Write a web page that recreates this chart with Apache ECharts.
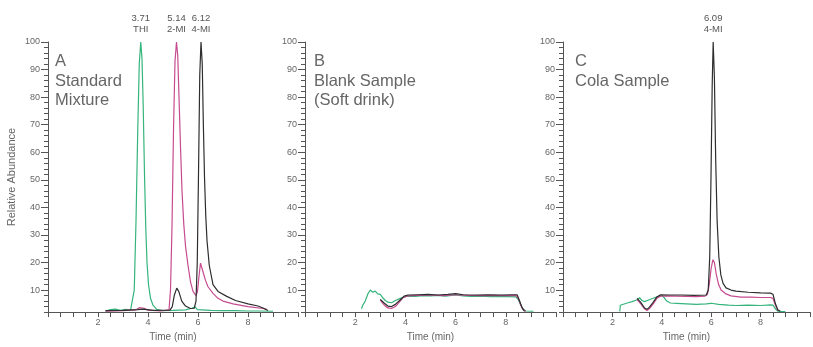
<!DOCTYPE html>
<html><head><meta charset="utf-8">
<script src="https://cdn.jsdelivr.net/npm/echarts@6/dist/echarts.min.js"></script>
<style>html,body{margin:0;padding:0;background:#fff}#c{width:813px;height:347px}</style>
</head><body><div id="c"></div>
<script>
// ---- data (time in min, relative abundance %) ----
const aGreen = [[2.3,2.4],[2.5,2.9],[2.7,3.1],[2.9,2.6],[3.1,3.0],[3.3,2.6],[3.38,2.8],[3.45,10],[3.52,35],[3.59,68],[3.65,92],[3.71,100],[3.76,94],[3.81,76],[3.86,52],[3.91,33],[3.96,20],[4.02,12],[4.1,7],[4.2,4.5],[4.35,3.0],[4.6,2.5],[5.0,2.6],[5.5,2.8],[5.75,3.4],[5.88,3.9],[5.98,2.9],[6.5,2.6],[7.0,2.5],[7.5,2.5],[8.0,2.4],[8.5,2.4],[9.0,2.3]];
const aMagenta = [[2.3,2.3],[3.0,2.5],[3.5,2.8],[3.65,3.6],[3.85,3.4],[4.0,2.7],[4.5,2.4],[4.84,2.8],[4.9,10],[4.96,33],[5.02,68],[5.08,93],[5.14,100],[5.19,95],[5.24,80],[5.3,62],[5.36,46],[5.43,34],[5.5,26],[5.6,19],[5.7,13],[5.8,9.5],[5.92,8],[5.98,9.5],[6.04,15],[6.1,19.8],[6.15,19.5],[6.22,16],[6.3,13.5],[6.4,11.2],[6.6,8.8],[6.8,7],[7.0,6],[7.4,5],[8.0,4],[8.6,3.3],[8.75,3.0]];
const aBlack = [[2.3,2.5],[3.0,2.6],[3.6,2.9],[3.8,3.1],[4.2,2.6],[4.88,2.7],[4.97,4],[5.05,8],[5.15,10.7],[5.23,9.5],[5.35,6],[5.5,4.2],[5.7,3.3],[5.85,3.4],[5.92,6],[5.97,20],[6.02,52],[6.07,88],[6.12,100],[6.17,92],[6.21,72],[6.26,51],[6.31,37],[6.36,28],[6.45,19],[6.6,12],[6.8,9.5],[7.15,7.7],[7.5,6.2],[8.0,5],[8.4,4.2],[8.6,3.5],[8.8,2.6]];

const bGreen = [[2.25,3.2],[2.3,4.5],[2.4,6],[2.5,8.5],[2.6,10],[2.7,9.2],[2.8,9.6],[2.9,8.6],[3.0,8.4],[3.1,7.2],[3.2,6.2],[3.3,5.6],[3.45,5.4],[3.6,6.2],[3.75,6.8],[3.9,7.4],[4.1,7.8],[4.4,7.7],[4.7,8.0],[5.0,7.9],[5.3,8.1],[5.6,7.8],[6.0,8.2],[6.3,7.9],[6.6,7.7],[7.0,7.8],[7.4,7.6],[7.8,7.7],[8.1,7.6],[8.4,7.5],[8.5,6.5],[8.6,4.5],[8.7,3],[8.8,2.4],[9.1,2.3]];
const bMagenta = [[3.0,6.4],[3.1,5.2],[3.2,4.2],[3.3,3.5],[3.45,3.3],[3.6,4.0],[3.75,5.5],[3.9,7.2],[4.1,7.9],[4.5,8.1],[5.0,8.2],[5.5,8.0],[6.0,8.3],[6.5,8.1],[7.0,8.0],[7.5,8.1],[8.0,8.0],[8.4,8.1],[8.5,7],[8.6,4.5],[8.7,2.8],[8.8,2.3]];
const bBlack = [[3.0,6.6],[3.15,5.3],[3.3,4.2],[3.45,4.0],[3.6,4.8],[3.8,6.5],[3.95,7.8],[4.1,8.2],[4.5,8.3],[4.9,8.4],[5.3,8.2],[5.7,8.4],[6.0,8.7],[6.3,8.3],[6.8,8.2],[7.3,8.3],[7.8,8.2],[8.2,8.3],[8.45,8.3],[8.55,6],[8.65,3.5],[8.75,2.3]];

const cGreen = [[2.3,2.2],[2.32,4.5],[2.4,5],[2.6,5.3],[2.8,5.8],[3.0,6.5],[3.1,7.2],[3.2,6.2],[3.3,5.8],[3.5,6.5],[3.7,7.2],[3.9,7.8],[4.0,8.0],[4.1,7.2],[4.2,6],[4.35,5.3],[4.6,5.2],[5.0,5.0],[5.4,4.8],[5.8,5.0],[6.0,5.2],[6.3,4.8],[6.7,4.5],[7.0,4.4],[7.5,4.5],[8.0,4.4],[8.4,4.6],[8.5,4.5],[8.6,3.2],[8.7,2.3],[9.0,2.2]];
const cMagenta = [[3.0,6.5],[3.15,5],[3.3,3.2],[3.4,2.6],[3.5,3.3],[3.65,5],[3.8,7],[3.95,7.8],[4.2,7.9],[4.6,7.8],[5.0,7.7],[5.4,7.6],[5.75,7.8],[5.85,8.5],[5.92,12],[6.0,18],[6.07,21],[6.13,20],[6.2,16],[6.3,12],[6.4,10],[6.6,8.6],[6.8,7.9],[7.2,7.4],[7.6,7.4],[8.0,7.3],[8.4,7.3],[8.5,7.0],[8.6,4.5],[8.7,2.5]];
const cBlack = [[3.0,7],[3.15,5.5],[3.3,3.5],[3.4,3],[3.5,3.8],[3.65,5.5],[3.8,7.5],[3.95,8.3],[4.3,8.2],[4.8,8.2],[5.3,8.1],[5.8,8.2],[5.88,10],[5.94,22],[5.99,50],[6.04,84],[6.08,100],[6.13,87],[6.18,58],[6.24,35],[6.31,22],[6.39,15.5],[6.48,12.4],[6.6,10.8],[6.8,10],[7.0,9.6],[7.5,9.2],[8.0,9.0],[8.4,8.9],[8.5,8.5],[8.6,5],[8.7,2.8],[8.8,2.3]];

const xTickLabels = [2,4,6,8];
const yTickLabels = [10,20,30,40,50,60,70,80,90,100];
const panelTitles = ['A\nStandard\nMixture','B\nBlank Sample\n(Soft drink)','C\nCola Sample'];
const peakA = [{t:3.71,v:100,text:'3.71\nTHI',s:'g'},{t:5.14,v:100,text:'5.14\n2-MI',s:'m'},{t:6.12,v:100,text:'6.12\n4-MI',s:'k'}];
const peakC = [{t:6.08,v:100,text:'6.09\n4-MI',s:'k'}];

// ---- layout / style ----
const FONT = "'Liberation Sans', Arial, sans-serif";
const COL = {g:'#35b47c', m:'#c64a90', k:'#2e2e2e'};
const grids = [
  {left:48, top:42, width:250, height:275},
  {left:305, top:42, width:251, height:275},
  {left:563, top:42, width:250, height:275}
];
const titleLeft = [55, 314, 575];
const panels = [
  {g:aGreen, m:aMagenta, k:aBlack, peaks:peakA},
  {g:bGreen, m:bMagenta, k:bBlack, peaks:[]},
  {g:cGreen, m:cMagenta, k:cBlack, peaks:peakC}
];

const xAxis = [], yAxis = [], series = [], title = [];
grids.forEach((gr, i) => {
  xAxis.push({
    gridIndex:i, type:'value', min:0, max:10, interval:0.5,
    axisLine:{show:true, lineStyle:{color:'#555', width:1}},
    axisTick:{show:true, length:5, lineStyle:{color:'#555'}},
    axisLabel:{fontSize:9, color:'#666', fontFamily:FONT, margin:6,
      formatter: v => xTickLabels.includes(v) ? String(v) : ''},
    splitLine:{show:false},
    name:'Time (min)', nameLocation:'middle', nameGap:15,
    nameTextStyle:{fontSize:10, color:'#666', fontFamily:FONT}
  });
  yAxis.push({
    gridIndex:i, type:'value', min:2, max:100, interval:2, position:'left',
    axisLine:{show:true, lineStyle:{color:'#555', width:1}},
    axisTick:{show:true, length:4, lineStyle:{color:'#555'}},
    axisLabel:{show:false}, splitLine:{show:false},
    name: i===0 ? 'Relative Abundance' : '', nameLocation:'middle', nameGap:31, nameRotate:90,
    nameTextStyle:{fontSize:11, color:'#666', fontFamily:FONT}
  });
  yAxis.push({
    gridIndex:i, type:'value', min:2, max:100, position:'left', offset:0,
    axisLine:{show:false},
    axisTick:{show:true, length:7, customValues:yTickLabels, lineStyle:{color:'#555'}},
    axisLabel:{show:true, customValues:yTickLabels, fontSize:9, color:'#666', fontFamily:FONT, margin:8},
    splitLine:{show:false}
  });
  title.push({
    text: panelTitles[i], left: titleLeft[i], top: 52, padding:0,
    textStyle:{fontSize:16.5, fontWeight:'normal', color:'#666', fontFamily:FONT, lineHeight:19.5}
  });
  const p = panels[i];
  ['g','m','k'].forEach(key => {
    const pk = p.peaks.filter(q => q.s === key);
    series.push({
      type:'line', xAxisIndex:i, yAxisIndex:i*2, data:p[key],
      showSymbol:false, smooth:false, silent:true,
      lineStyle:{color:COL[key], width:1.2}, itemStyle:{color:COL[key]},
      markPoint: pk.length ? {
        symbol:'circle', symbolSize:0, silent:true,
        label:{show:true, position:'top', distance:7, color:'#555', fontSize:9.5, lineHeight:11, fontFamily:FONT,
          formatter: prm => prm.name},
        data: pk.map(q => ({name:q.text, coord:[q.t, q.v]}))
      } : undefined
    });
  });
});

const chart = echarts.init(document.getElementById('c'), null, {renderer:'canvas'});
chart.setOption({animation:false, backgroundColor:'#fff', grid:grids, xAxis, yAxis, series, title});
</script>
</body></html>
